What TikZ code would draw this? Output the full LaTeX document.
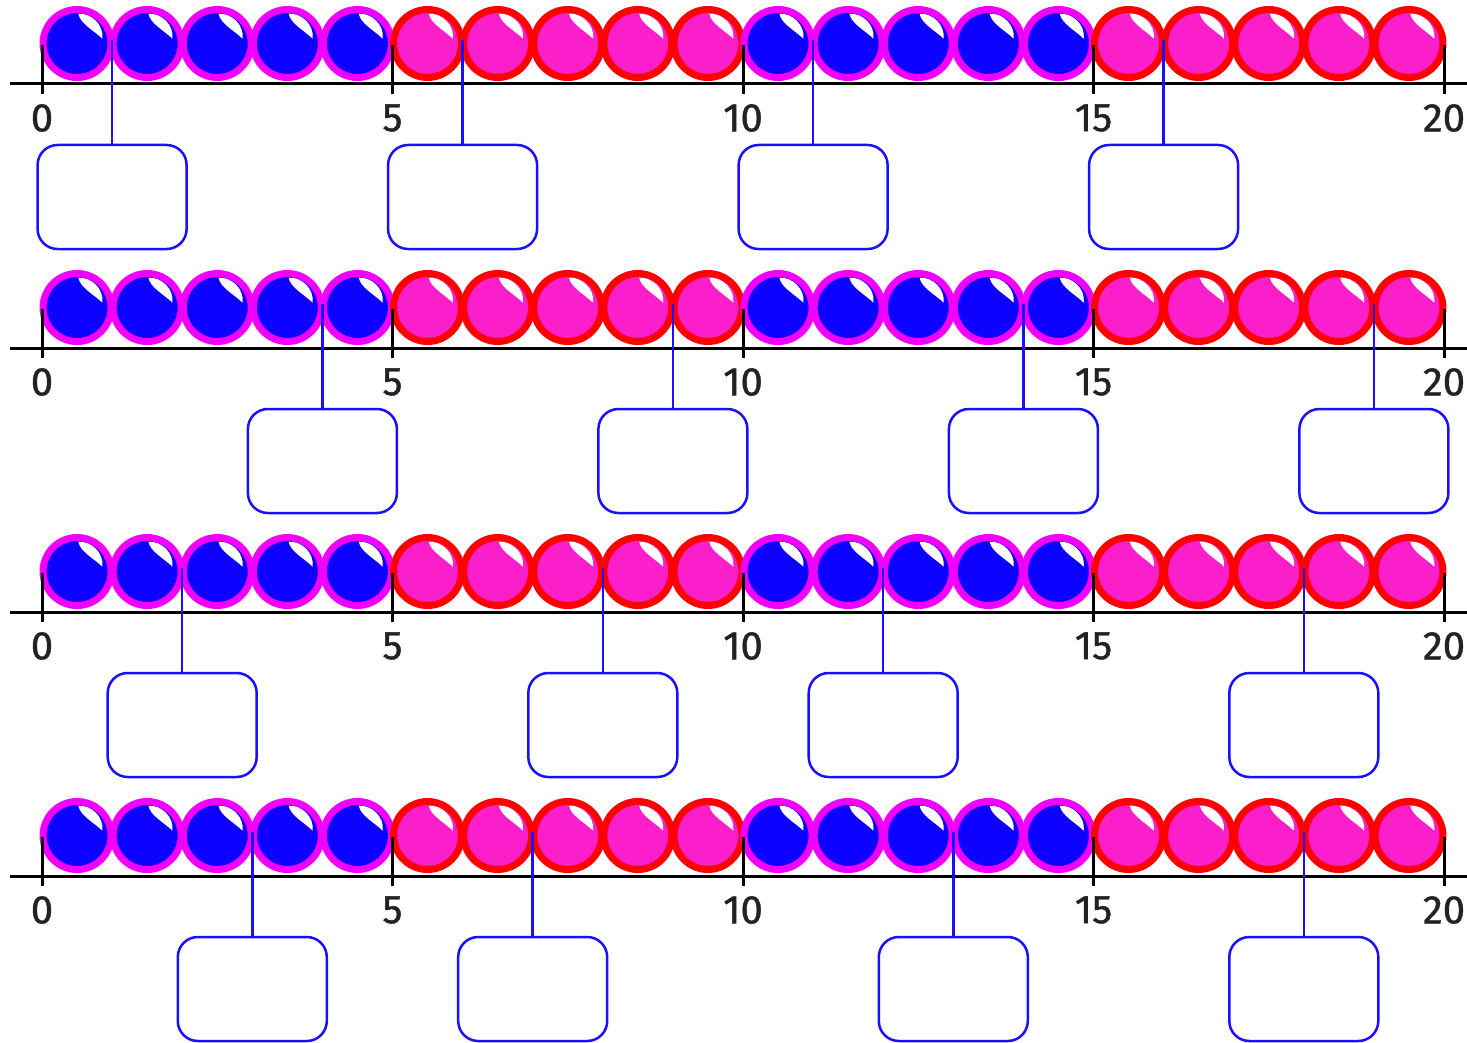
\documentclass[tikz,border=0pt]{standalone}
\usepackage{fontspec}
\setmainfont{Fira Sans}
\newfontfamily\labfont[FakeBold=1]{Fira Sans}
\definecolor{beadblue}{HTML}{0C00FF}
\definecolor{ringmag}{HTML}{F000FF}
\definecolor{beadpink}{HTML}{FA1ECB}
\definecolor{ringred}{HTML}{FF0000}
\definecolor{boxblue}{HTML}{1A10FF}
\definecolor{labgray}{HTML}{222222}
\begin{document}
\begin{tikzpicture}[x=1pt,y=-1pt,
  bead/.style={circle,minimum size=68pt,inner sep=0pt,line width=7pt},
  bluebead/.style={bead,fill=beadblue,draw=ringmag},
  pinkbead/.style={bead,fill=beadpink,draw=ringred},
  axisline/.style={line width=3pt,black},
  tickline/.style={line width=3pt,black},
  lab/.style={font=\labfont\fontsize{40}{40}\selectfont,text=labgray,inner sep=0pt,anchor=center},
  answerbox/.style={draw=boxblue,line width=2.5pt,rounded corners=20pt,minimum width=149pt,minimum height=104pt,fill=white,inner sep=0pt},
  pointer/.style={draw=boxblue,line width=2.5pt},
  shine/.style={fill=white}
]
\useasboundingbox (0,0) rectangle (1467,1043);
\foreach \r/\ay/\plist in {0/84/{1,6,11,16},1/348/{4,9,14,19},2/612/{2,8,12,18},3/876/{3,7,13,18}} {
  % beads
  \foreach \i in {0,...,19} {
    \pgfmathsetmacro\cx{42+70.1*(\i+0.5)}
    \pgfmathsetmacro\cy{\ay-40.5}
    \pgfmathtruncatemacro\g{mod(floor(\i/5),2)}
    \ifnum\g=0
      \node[bluebead] (b\r-\i) at (\cx,\cy) {};
    \else
      \node[pinkbead] (b\r-\i) at (\cx,\cy) {};
    \fi
    \fill[shine,shift={(b\r-\i.center)}] (1.3,-29.8) .. controls (14,-30.5) and (27,-19) .. (25.3,-4.8)
      .. controls (17,-13) and (3,-20) .. (1.3,-29.8) -- cycle;
  }
  % axis
  \coordinate (as\r) at (10,\ay);
  \coordinate (ae\r) at (1467,\ay);
  \draw[axisline] (as\r) -- (ae\r);
  \foreach \t in {0,5,10,15,20} {
    \pgfmathsetmacro\tx{42+70.1*\t}
    \coordinate (tt\r-\t) at (\tx,\ay-39);
    \coordinate (tb\r-\t) at (\tx,\ay+10);
    \draw[tickline] (tt\r-\t) -- (tb\r-\t);
    \node[lab] (l\r-\t) at (\tx,\ay+34) {\t};
  }
  % pointers and boxes
  \foreach \p in \plist {
    \pgfmathsetmacro\px{42+70.1*\p}
    \coordinate (p\r-\p) at (\px,\ay-44);
    \node[answerbox] (k\r-\p) at (\px,\ay+113) {};
    \draw[pointer] (p\r-\p) -- (k\r-\p.north);
  }
}
\end{tikzpicture}
\end{document}
